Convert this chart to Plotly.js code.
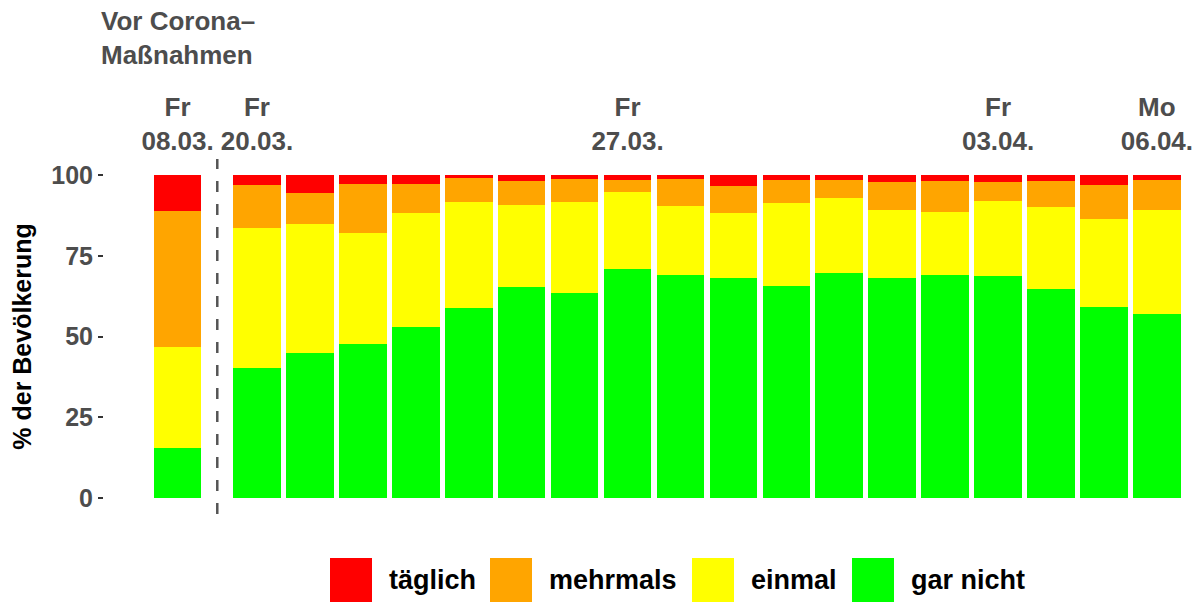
<!DOCTYPE html>
<html>
<head>
<meta charset="utf-8">
<script src="https://cdn.plot.ly/plotly-3.0.1.min.js"></script>
<style>html,body{margin:0;padding:0;background:#fff;}#chart{width:1199px;height:602px;}</style>
</head>
<body>
<div id="chart"></div>
<script>
// ---- data ----
const dates = ['08.03.','20.03.','21.03.','22.03.','23.03.','24.03.','25.03.','26.03.','27.03.','28.03.','29.03.','30.03.','31.03.','01.04.','02.04.','03.04.','04.04.','05.04.','06.04.'];
const weekdays = ['Fr','Fr','Sa','So','Mo','Di','Mi','Do','Fr','Sa','So','Mo','Di','Mi','Do','Fr','Sa','So','Mo'];
const labelledDates = ['08.03.','20.03.','27.03.','03.04.','06.04.'];
const garNicht = [15.3, 40.2, 44.8, 47.6, 52.9, 58.8, 65.3, 63.4, 70.9, 69.0, 68.1, 65.6, 69.6, 68.1, 69.0, 68.7, 64.7, 59.1, 56.9];
const einmal   = [31.4, 43.4, 40.0, 34.4, 35.3, 32.8, 25.4, 28.2, 23.8, 21.4, 20.1, 25.7, 23.3, 21.0, 19.5, 23.2, 25.4, 27.3, 32.2];
const mehrmals = [42.1, 13.3,  9.6, 15.2,  9.0,  7.5,  7.4,  7.2,  3.7,  8.4,  8.4,  7.1,  5.5,  8.7,  9.6,  5.9,  8.0, 10.5,  9.3];
const taeglich = [11.2,  3.1,  5.6,  2.8,  2.8,  0.9,  1.9,  1.2,  1.6,  1.2,  3.4,  1.6,  1.6,  2.2,  1.9,  2.2,  1.9,  3.1,  1.6];
const seriesNames = ['gar nicht','einmal','mehrmals','täglich'];
const seriesColors = ['#00FF00','#FFFF00','#FFA500','#FF0000'];
const seriesValues = [garNicht, einmal, mehrmals, taeglich];

// ---- positions: the pre-measure survey is set apart from the daily series ----
const PRE_GAP = 1.5;
const xpos = dates.map((d, i) => i === 0 ? -PRE_GAP : i - 1);
const divider = -PRE_GAP / 2;

const W = 1199, H = 602;
const M = {l: 104, r: 4, t: 159, b: 88};
const pw = W - M.l - M.r, ph = H - M.t - M.b;
const px2x = p => (p - M.l) / pw;
const py2y = p => (H - M.b - p) / ph;

const FONT = '"Liberation Sans", Arial, sans-serif';
const GREY = '#4d4d4d';

const traces = seriesNames.map((name, k) => ({
  type: 'bar',
  name: name,
  x: xpos,
  y: seriesValues[k],
  marker: {color: seriesColors[k], line: {width: 0}},
  hovertemplate: '%{y}<extra>' + name + '</extra>'
}));

const tickIdx = labelledDates.map(d => dates.indexOf(d));

// legend (drawn as shapes/annotations to get large keys)
const legendOrder = [3, 2, 1, 0];
const legendKeyX = [330, 490, 692, 852];
const keyW = 42, keyTop = 558, keyBot = 602, keyGap = 15;
const shapes = [{
  type: 'line', xref: 'x', yref: 'paper', x0: divider, x1: divider, y0: 0, y1: 1,
  line: {color: '#555555', width: 2.5, dash: '11px,12px'}
}];
const annotations = [];
legendOrder.forEach((k, j) => {
  const x0 = legendKeyX[j];
  shapes.push({type: 'rect', xref: 'paper', yref: 'paper',
    x0: px2x(x0), x1: px2x(x0 + keyW), y0: py2y(keyBot), y1: py2y(keyTop),
    fillcolor: seriesColors[k], line: {width: 0}});
  annotations.push({xref: 'paper', yref: 'paper', x: px2x(x0 + keyW + keyGap), y: py2y((keyTop + keyBot) / 2),
    xanchor: 'left', yanchor: 'middle', showarrow: false, text: seriesNames[k],
    font: {family: FONT, size: 27, color: '#000000', weight: 'bold'}});
});

const layout = {
  width: W, height: H,
  margin: M,
  paper_bgcolor: '#ffffff', plot_bgcolor: '#ffffff',
  barmode: 'stack', bargap: 0.1,
  showlegend: false,
  font: {family: FONT, size: 25, color: GREY},
  title: {
    text: 'Vor Corona–<br>Maßnahmen',
    xref: 'container', yref: 'container', x: 101 / W, xanchor: 'left',
    y: 1 - 30 / H, yanchor: 'top',
    font: {family: FONT, size: 26, color: GREY, weight: 'bold'}
  },
  xaxis: {
    side: 'top', range: [-2.89, 17.72],
    tickmode: 'array', tickvals: tickIdx.map(i => xpos[i]),
    ticktext: tickIdx.map(i => weekdays[i] + '<br>' + dates[i]),
    ticks: '', showgrid: false, zeroline: false, showline: false,
    tickfont: {family: FONT, size: 26, color: GREY, weight: 'bold'},
    ticklabelstandoff: 3, fixedrange: true
  },
  yaxis: {
    range: [-5, 105], tickvals: [0, 25, 50, 75, 100],
    ticks: 'outside', ticklen: 5, tickwidth: 2, tickcolor: '#333333',
    showgrid: false, zeroline: false, showline: false,
    tickfont: {family: FONT, size: 25, color: GREY, weight: 'bold'},
    title: {text: '% der Bevölkerung', standoff: 12,
      font: {family: FONT, size: 25, color: '#000000', weight: 'bold'}},
    fixedrange: true
  },
  shapes: shapes,
  annotations: annotations
};

Plotly.newPlot('chart', traces, layout, {displayModeBar: false, staticPlot: true});
</script>
</body>
</html>
